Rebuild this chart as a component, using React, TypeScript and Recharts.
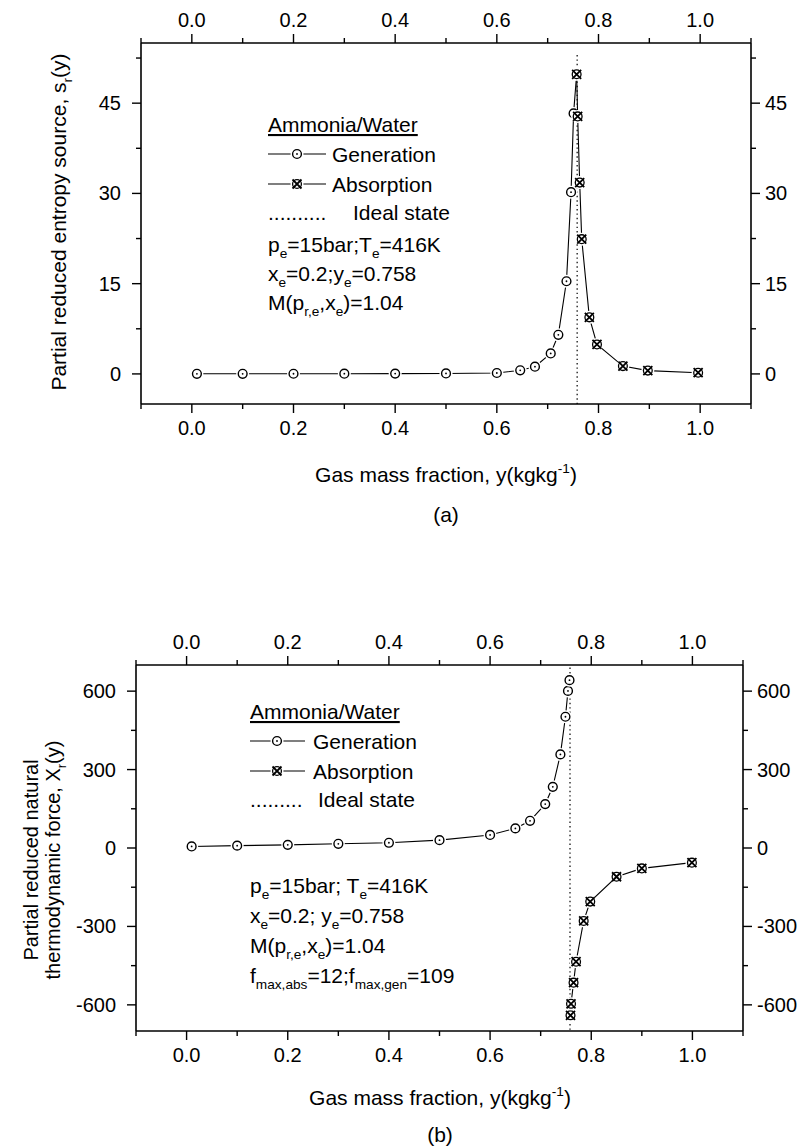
import React from 'react';
import { ScatterChart, Scatter, XAxis, YAxis, ReferenceLine } from 'recharts';

const FONT = '"Liberation Sans", Arial, Helvetica, sans-serif';

// (a) partial reduced entropy source
const genXa = [0.01, 0.1, 0.2, 0.3, 0.4, 0.5, 0.6, 0.646, 0.675, 0.706, 0.721, 0.737, 0.746, 0.751, 0.757];
const genYa = [0.02, 0.02, 0.03, 0.04, 0.05, 0.08, 0.15, 0.6, 1.2, 3.4, 6.5, 15.4, 30.2, 43.3, 49.8];
const absXa = [0.757, 0.759, 0.763, 0.767, 0.782, 0.797, 0.848, 0.897, 0.996];
const absYa = [49.8, 42.8, 31.8, 22.4, 9.4, 4.9, 1.3, 0.55, 0.2];

// (b) partial reduced natural thermodynamic force
const genXb = [0.01, 0.1, 0.2, 0.3, 0.4, 0.5, 0.6, 0.65, 0.679, 0.709, 0.724, 0.739, 0.749, 0.754, 0.757];
const genYb = [6, 9, 12, 16, 20, 30, 50, 75, 104, 168, 234, 358, 502, 601, 642];
const absXb = [0.759, 0.76, 0.765, 0.77, 0.785, 0.798, 0.85, 0.9, 0.999];
const absYb = [-640, -596, -515, -435, -279, -205, -110, -78, -56];

const idealY = 0.758;

const xMajor = [0, 0.2, 0.4, 0.6, 0.8, 1.0];
const xMinor = [-0.1, 0.1, 0.3, 0.5, 0.7, 0.9, 1.1];
const yMajorA = [0, 15, 30, 45];
const yMinorA = [7.5, 22.5, 37.5, 52.5];
const yMajorB = [-600, -300, 0, 300, 600];
const yMinorB = [-450, -150, 150, 450];

const zip = (xs: number[], ys: number[]) => xs.map((x, i) => ({ x, y: ys[i] }));

const GenDot = (p: any) => {
  const { cx, cy } = p;
  return (
    <g>
      <circle cx={cx} cy={cy} r={6.5} fill="#fff" />
      <circle cx={cx} cy={cy} r={4.4} fill="#fff" stroke="#000" strokeWidth={1.4} />
      <circle cx={cx} cy={cy} r={0.9} fill="#000" />
    </g>
  );
};

const AbsDot = (p: any) => {
  const { cx, cy } = p;
  const d = 4.5;
  return (
    <g>
      <circle cx={cx} cy={cy} r={6.5} fill="#fff" />
      <circle cx={cx} cy={cy} r={4.4} fill="#fff" stroke="#000" strokeWidth={1.3} />
      <path
        d={`M${cx - d},${cy - d}L${cx + d},${cy + d}M${cx - d},${cy + d}L${cx + d},${cy - d}`}
        stroke="#000"
        strokeWidth={1.8}
      />
    </g>
  );
};

const NoDot = () => <g />;

const makeTick = (side: string, major: number[], fmt: (v: number) => string) => (props: any) => {
  const { x, y, payload } = props;
  const v = payload.value;
  const isMajor = major.some((m) => Math.abs(m - v) < 1e-6);
  const len = isMajor ? 9 : 5;
  const ts = { fontSize: 20, fontFamily: FONT, fill: '#000' };
  let line = null;
  let label = null;
  if (side === 'bottom') {
    line = <line x1={x} x2={x} y1={y} y2={y + len} stroke="#000" strokeWidth={1.4} />;
    label = <text x={x} y={y + 31} textAnchor="middle" {...ts}>{fmt(v)}</text>;
  } else if (side === 'top') {
    line = <line x1={x} x2={x} y1={y} y2={y - len} stroke="#000" strokeWidth={1.4} />;
    label = <text x={x} y={y - 16} textAnchor="middle" {...ts}>{fmt(v)}</text>;
  } else if (side === 'left') {
    line = <line x1={x} x2={x - len} y1={y} y2={y} stroke="#000" strokeWidth={1.4} />;
    label = <text x={x - 20} y={y + 7} textAnchor="end" {...ts}>{fmt(v)}</text>;
  } else {
    line = <line x1={x} x2={x + len} y1={y} y2={y} stroke="#000" strokeWidth={1.4} />;
    label = <text x={x + 14} y={y + 7} textAnchor="start" {...ts}>{fmt(v)}</text>;
  }
  return (
    <g>
      {line}
      {isMajor && label}
    </g>
  );
};

const fx = (v: number) => v.toFixed(1);
const fy = (v: number) => String(Math.round(v));
const axisLine = { stroke: '#000', strokeWidth: 1.6 };

type Seg = [string, number?];
const Rich = ({ x, y, segs, size = 21, underline = false, rotate = false, anchor = 'start' }: any) => {
  let shift = 0;
  return (
    <text
      x={x}
      y={y}
      fontSize={size}
      fontFamily={FONT}
      fill="#000"
      textAnchor={anchor}
      textDecoration={underline ? 'underline' : undefined}
      transform={rotate ? `rotate(-90 ${x} ${y})` : undefined}
    >
      {(segs as Seg[]).map(([t, k], i) => {
        const target = k === 1 ? size * 0.3 : k === 2 ? -size * 0.42 : 0;
        const dy = target - shift;
        shift = target;
        return (
          <tspan key={i} dy={dy} fontSize={k ? size * 0.65 : size}>
            {t}
          </tspan>
        );
      })}
    </text>
  );
};

const Panel = ({ gen, abs, yDomain, yTicks, yMajor, left, right, top, height, plotH, idealTop }: any) => {
  const xTicks = [...xMinor, ...xMajor].sort((a, b) => a - b);
  return (
    <ScatterChart width={803} height={height} margin={{ top: 0, right: 0, left: 0, bottom: height - top - plotH - 40 }}>
      <XAxis xAxisId="b" type="number" dataKey="x" domain={[-0.1, 1.1]} allowDataOverflow ticks={xTicks} interval={0}
        height={40} tickSize={0} tickMargin={0} tickLine={false} axisLine={axisLine} tick={makeTick('bottom', xMajor, fx)} />
      <XAxis xAxisId="t" orientation="top" type="number" dataKey="x" domain={[-0.1, 1.1]} allowDataOverflow ticks={xTicks} interval={0}
        height={top} tickSize={0} tickMargin={0} tickLine={false} axisLine={axisLine} tick={makeTick('top', xMajor, fx)} />
      <YAxis yAxisId="l" type="number" dataKey="y" domain={yDomain} allowDataOverflow ticks={yTicks} interval={0}
        width={left} tickSize={0} tickMargin={0} tickLine={false} axisLine={axisLine} tick={makeTick('left', yMajor, fy)} />
      <YAxis yAxisId="r" orientation="right" type="number" dataKey="y" domain={yDomain} allowDataOverflow ticks={yTicks} interval={0}
        width={right} tickSize={0} tickMargin={0} tickLine={false} axisLine={axisLine} tick={makeTick('right', yMajor, fy)} />
      <ReferenceLine xAxisId="b" yAxisId="l" segment={[{ x: idealY, y: idealTop }, { x: idealY, y: yDomain[0] }]}
        stroke="#000" strokeWidth={1.2} strokeDasharray="1.4 3" />
      {/* twin axes (top / right) need a series of their own to get ticks */}
      <Scatter xAxisId="t" yAxisId="r" data={gen} shape={NoDot} legendType="none" isAnimationActive={false} />
      <Scatter xAxisId="b" yAxisId="l" data={gen} line={{ stroke: '#000', strokeWidth: 1.1 }} shape={GenDot} isAnimationActive={false} />
      <Scatter xAxisId="b" yAxisId="l" data={abs} line={{ stroke: '#000', strokeWidth: 1.1 }} shape={AbsDot} isAnimationActive={false} />
    </ScatterChart>
  );
};

const LegendRows = ({ x, y0, lineEnd, markX, textX, idealX, dots, step }: any) => (
  <g>
    <Rich x={x} y={y0} segs={[['Ammonia/Water']]} underline />
    <line x1={x} x2={lineEnd} y1={y0 + 22} y2={y0 + 22} stroke="#000" strokeWidth={1.1} />
    <GenDot cx={markX} cy={y0 + 22} />
    <Rich x={textX} y={y0 + 30} segs={[['Generation']]} />
    <line x1={x} x2={lineEnd} y1={y0 + 22 + step} y2={y0 + 22 + step} stroke="#000" strokeWidth={1.1} />
    <AbsDot cx={markX} cy={y0 + 22 + step} />
    <Rich x={textX} y={y0 + 30 + step} segs={[['Absorption']]} />
    <Rich x={x} y={y0 + 30 + step * 2 - 2} segs={[[dots]]} />
    <Rich x={idealX} y={y0 + 30 + step * 2 - 2} segs={[['Ideal state']]} />
  </g>
);

export default function App() {
  return (
    <div style={{ position: 'absolute', left: 0, top: 0, width: 803, height: 1147, background: '#fff' }}>
      <div style={{ position: 'absolute', left: 0, top: 0 }}>
        <Panel gen={zip(genXa, genYa)} abs={zip(absXa, absYa)} yDomain={[-5, 55]} plotH={361}
          yTicks={[...yMajorA, ...yMinorA].sort((a, b) => a - b)} yMajor={yMajorA}
          left={141} right={52} top={43} height={560} idealTop={53} />
      </div>
      <div style={{ position: 'absolute', left: 0, top: 560 }}>
        <Panel gen={zip(genXb, genYb)} abs={zip(absXb, absYb)} yDomain={[-700, 700]} plotH={366}
          yTicks={[...yMajorB, ...yMinorB].sort((a, b) => a - b)} yMajor={yMajorB}
          left={136} right={60} top={105} height={587} idealTop={690} />
      </div>
      <svg width={803} height={1147} style={{ position: 'absolute', left: 0, top: 0, pointerEvents: 'none' }}>
        {/* panel (a) */}
        <LegendRows x={268} y0={132} lineEnd={326} markX={297} textX={332} idealX={353} dots=".........." step={30} />
        <Rich x={268} y={252} segs={[['p'], ['e', 1], ['=15bar;T'], ['e', 1], ['=416K']]} />
        <Rich x={268} y={281} segs={[['x'], ['e', 1], ['=0.2;y'], ['e', 1], ['=0.758']]} />
        <Rich x={268} y={310} segs={[['M(p'], ['r,e', 1], [',x'], ['e', 1], [')=1.04']]} />
        <Rich x={66} y={222} rotate anchor="middle" size={21}
          segs={[['Partial reduced entropy source, s'], ['r', 1], ['(y)']]} />
        <Rich x={446} y={482} anchor="middle" segs={[['Gas mass fraction, y(kgkg'], ['-1', 2], [')']]} />
        <Rich x={446} y={522} anchor="middle" segs={[['(a)']]} />

        {/* panel (b) */}
        <LegendRows x={250} y0={719} lineEnd={305} markX={277} textX={313} idealX={318} dots="........." step={30} />
        <Rich x={250} y={893} segs={[['p'], ['e', 1], ['=15bar; T'], ['e', 1], ['=416K']]} />
        <Rich x={250} y={923} segs={[['x'], ['e', 1], ['=0.2; y'], ['e', 1], ['=0.758']]} />
        <Rich x={250} y={953} segs={[['M(p'], ['r,e', 1], [',x'], ['e', 1], [')=1.04']]} />
        <Rich x={250} y={983} segs={[['f'], ['max,abs', 1], ['=12;f'], ['max,gen', 1], ['=109']]} />
        <Rich x={38} y={860} rotate anchor="middle" size={20} segs={[['Partial reduced natural']]} />
        <Rich x={60} y={860} rotate anchor="middle" size={20}
          segs={[['thermodynamic force, X'], ['r', 1], ['(y)']]} />
        <Rich x={440} y={1105} anchor="middle" segs={[['Gas mass fraction, y(kgkg'], ['-1', 2], [')']]} />
        <Rich x={440} y={1142} anchor="middle" segs={[['(b)']]} />
      </svg>
    </div>
  );
}
